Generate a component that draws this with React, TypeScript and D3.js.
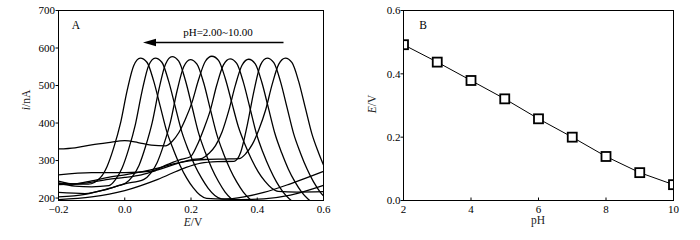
import React from "react";
import * as d3 from "d3";

// ---------- Panel B data ----------
const phValues = [2, 3, 4, 5, 6, 7, 8, 9, 10];
const peakPotentials = [0.492, 0.437, 0.379, 0.321, 0.258, 0.2, 0.139, 0.088, 0.05];
const bXTicks = [2, 4, 6, 8, 10];
const bYTicks = [0, 0.2, 0.4, 0.6];
const bYTickLabels = ["0.0", "0.2", "0.4", "0.6"];

// ---------- Panel A data ----------
const aXTicks = [-0.2, 0, 0.2, 0.4, 0.6];
const aXTickLabels = ["\u22120.2", "0.0", "0.2", "0.4", "0.6"];
const aYTicks = [200, 300, 400, 500, 600, 700];

// voltammograms: [E (V), i (nA)]
const curvePH10 = [[-0.2,245],[-0.15,237],[-0.11,237],[-0.073,255],[-0.053,285],[-0.033,335],[-0.013,399],[0.007,486],[0.027,553],[0.047,573],[0.067,562],[0.087,513],[0.107,445],[0.127,377],[0.147,329],[0.167,287],[0.187,253],[0.207,227],[0.227,208],[0.247,199],[0.3,197],[0.36,203],[0.42,215],[0.5,238],[0.6,271]];
const curvePH9 = [[-0.2,240],[-0.15,232],[-0.1,230],[-0.048,233],[-0.028,249],[-0.008,280],[0.012,331],[0.032,396],[0.052,484],[0.072,553],[0.092,573],[0.112,562],[0.132,513],[0.152,445],[0.172,377],[0.192,328],[0.212,286],[0.232,253],[0.252,226],[0.272,207],[0.292,198],[0.35,196],[0.42,198],[0.5,208],[0.6,234]];
const curvePH8 = [[-0.2,215],[-0.12,212],[-0.06,222],[-0.02,233],[0.003,240],[0.023,257],[0.043,287],[0.063,338],[0.083,402],[0.103,489],[0.123,557],[0.143,577],[0.163,565],[0.183,514],[0.203,444],[0.223,373],[0.243,322],[0.263,279],[0.283,244],[0.303,216],[0.323,197],[0.343,185],[0.4,180],[0.6,178]];
const curvePH7 = [[-0.2,203],[-0.12,210],[-0.05,225],[0.0,238],[0.058,250],[0.078,266],[0.098,295],[0.118,343],[0.138,403],[0.158,486],[0.178,550],[0.198,569],[0.218,557],[0.238,508],[0.258,438],[0.278,369],[0.298,319],[0.318,277],[0.338,243],[0.358,216],[0.378,197],[0.398,185],[0.45,180],[0.6,178]];
const curvePH6 = [[-0.2,331],[-0.15,334],[-0.1,342],[-0.05,348],[0.0,353],[0.04,348],[0.08,341],[0.123,339],[0.143,351],[0.163,374],[0.183,410],[0.203,455],[0.223,516],[0.243,564],[0.263,578],[0.283,567],[0.303,520],[0.323,455],[0.343,390],[0.363,343],[0.383,303],[0.403,270],[0.423,245],[0.443,227],[0.463,218],[0.52,216],[0.6,217]];
const curvePH5 = [[-0.2,262],[-0.1,268],[0.0,268],[0.08,272],[0.13,290],[0.17,303],[0.198,310],[0.218,340],[0.238,383],[0.258,433],[0.278,502],[0.298,555],[0.318,571],[0.338,559],[0.358,509],[0.378,440],[0.398,370],[0.418,320],[0.438,278],[0.458,243],[0.478,216],[0.498,197],[0.518,185],[0.56,180],[0.6,178]];
const curvePH4 = [[-0.2,236],[-0.12,240],[-0.05,250],[0.0,255],[0.05,262],[0.1,275],[0.15,290],[0.2,302],[0.234,306],[0.254,319],[0.274,340],[0.294,377],[0.314,433],[0.334,501],[0.354,554],[0.374,570],[0.394,558],[0.414,508],[0.434,439],[0.454,370],[0.474,320],[0.494,277],[0.514,243],[0.534,216],[0.554,197],[0.574,185],[0.6,180]];
const curvePH3 = [[-0.2,196],[-0.1,203],[0.0,220],[0.1,250],[0.18,280],[0.23,293],[0.28,297],[0.33,298],[0.35,322],[0.37,395],[0.39,485],[0.41,555],[0.43,573],[0.45,561],[0.47,511],[0.49,441],[0.51,371],[0.53,321],[0.55,278],[0.57,243],[0.59,216],[0.61,197]];
const curvePH2 = [[-0.2,240],[-0.15,238],[-0.1,246],[-0.05,255],[0.0,262],[0.05,270],[0.1,280],[0.15,292],[0.2,300],[0.25,303],[0.3,304],[0.345,305],[0.365,318],[0.385,343],[0.405,383],[0.425,434],[0.445,503],[0.465,557],[0.485,573],[0.505,561],[0.525,511],[0.545,441],[0.565,371],[0.585,321],[0.605,278]];
const voltammograms = [curvePH10, curvePH9, curvePH8, curvePH7, curvePH6, curvePH5, curvePH4, curvePH3, curvePH2];

const FONT = "'Liberation Serif', 'Times New Roman', serif";

export default function App() {
  // Panel A geometry
  const aL = 58.5, aR = 323.5, aT = 10.5, aB = 200.5;
  const ax = d3.scaleLinear().domain([-0.2, 0.6]).range([aL, aR]);
  const ay = d3.scaleLinear().domain([193.5, 700]).range([aB, aT]);
  const aLine = d3.line<number[]>().x(d => ax(d[0])).y(d => ay(d[1])).curve(d3.curveMonotoneX);

  // Panel B geometry
  const bL = 403.5, bR = 673.5, bT = 10.5, bB = 200.5;
  const bx = d3.scaleLinear().domain([2, 10]).range([bL, bR]);
  const by = d3.scaleLinear().domain([0, 0.6]).range([bB, bT]);
  const bPts = phValues.map((p, k) => [p, peakPotentials[k]]);
  const bLine = d3.line<number[]>().x(d => bx(d[0])).y(d => by(d[1]));

  const sq = 9;

  return (
    <svg width={700} height={240} style={{ position: "absolute", left: 0, top: 0, background: "#fff" }} fontFamily={FONT}>
      <defs>
        <clipPath id="clipA"><rect x={aL} y={aT} width={aR - aL} height={aB - aT} /></clipPath>
        <clipPath id="clipB"><rect x={bL} y={bT} width={bR - bL} height={bB - bT} /></clipPath>
      </defs>
      <rect x={0} y={0} width={700} height={240} fill="#fff" />

      {/* ---------- Panel A ---------- */}
      <g clipPath="url(#clipA)">
        {voltammograms.map((c, k) => (
          <path key={k} d={aLine(c) || ""} fill="none" stroke="#000" strokeWidth={1.3} />
        ))}
      </g>
      <rect x={aL} y={aT} width={aR - aL} height={aB - aT} fill="none" stroke="#000" strokeWidth={1} />
      {aYTicks.map(t => (
        <g key={t}>
          <line x1={aL - 3} x2={aL} y1={ay(t)} y2={ay(t)} stroke="#000" />
          <text x={aL - 3.5} y={ay(t) + 3.8} fontSize={11} textAnchor="end">{t}</text>
        </g>
      ))}
      {aXTicks.map((t, k) => (
        <g key={t}>
          <line x1={ax(t)} x2={ax(t)} y1={aB} y2={aB - 3} stroke="#000" />
          <text x={ax(t)} y={213} fontSize={11} textAnchor="middle">{aXTickLabels[k]}</text>
        </g>
      ))}
      <text x={193} y={225.5} fontSize={11.5} textAnchor="middle" fill="#222">
        <tspan fontStyle="italic">E</tspan>/V
      </text>
      <text transform="translate(30,100) rotate(-90)" fontSize={11.5} textAnchor="middle" fill="#222">
        <tspan fontStyle="italic">i</tspan>/nA
      </text>
      <text x={76} y={29} fontSize={11.5} textAnchor="middle">A</text>
      <text x={218} y={36} fontSize={11} textAnchor="middle">pH=2.00~10.00</text>
      <line x1={283.5} x2={154} y1={42.5} y2={42.5} stroke="#000" strokeWidth={1.5} />
      <polygon points="143,42.5 156,38.8 156,46.2" fill="#000" />

      {/* ---------- Panel B ---------- */}
      <g clipPath="url(#clipB)">
        <path d={bLine(bPts) || ""} fill="none" stroke="#000" strokeWidth={1} />
        {bPts.map((d, k) => (
          <rect key={k} x={bx(d[0]) - sq / 2} y={by(d[1]) - sq / 2} width={sq} height={sq}
            fill="#fff" stroke="#000" strokeWidth={1.8} />
        ))}
      </g>
      <rect x={bL} y={bT} width={bR - bL} height={bB - bT} fill="none" stroke="#000" strokeWidth={1} />
      {bYTicks.map((t, k) => (
        <g key={t}>
          <line x1={bL - 3} x2={bL} y1={by(t)} y2={by(t)} stroke="#000" />
          <text x={bL - 3} y={by(t) + 3.8} fontSize={11} textAnchor="end">{bYTickLabels[k]}</text>
        </g>
      ))}
      {bXTicks.map(t => (
        <g key={t}>
          <line x1={bx(t)} x2={bx(t)} y1={bB} y2={bB - 3} stroke="#000" />
          <text x={bx(t)} y={213} fontSize={11} textAnchor="middle">{t}</text>
        </g>
      ))}
      <text x={538} y={224} fontSize={11.5} textAnchor="middle" fill="#222">pH</text>
      <text transform="translate(375.5,104) rotate(-90)" fontSize={11.5} textAnchor="middle" fill="#222">
        <tspan fontStyle="italic">E</tspan>/V
      </text>
      <text x={423} y={29} fontSize={11.5} textAnchor="middle">B</text>
    </svg>
  );
}
